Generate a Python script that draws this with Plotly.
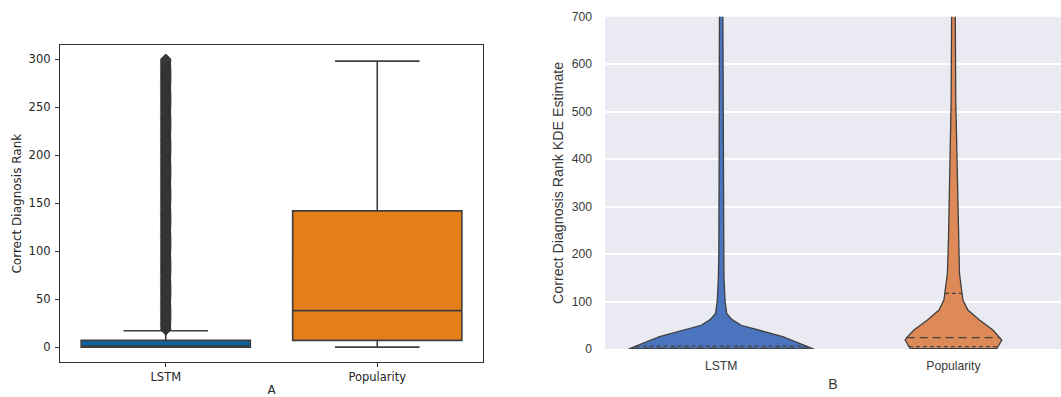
import numpy as np
import plotly.graph_objects as go

# ---------------- data ----------------
models = ["LSTM", "Popularity"]

# Panel A: box-plot statistics of the correct diagnosis rank
box_q1 = [0, 7]
box_median = [1, 38]
box_q3 = [7, 142]
box_lowerfence = [0, 0]
box_upperfence = [17, 298]
# LSTM outliers: every rank from 18 up to 300 occurs beyond the upper whisker
lstm_outlier_ranks = list(range(18, 301))

# Panel B: KDE profile (rank level -> half width of the violin, in category units)
lstm_kde_rank = [0, 26, 50, 62, 75, 100, 150, 200, 400, 720]
lstm_kde_halfwidth = [0.399, 0.265, 0.086, 0.047, 0.024, 0.017, 0.012, 0.010, 0.0086, 0.0073]
pop_kde_rank = [1, 10, 19, 24, 40, 61, 82, 103, 117, 159, 229, 313, 523, 720]
pop_kde_halfwidth = [0.187, 0.198, 0.208, 0.2015, 0.170, 0.112, 0.062, 0.041, 0.037,
                     0.026, 0.0215, 0.019, 0.010, 0.0077]
# quartiles of the KDE-estimated ranks (q1, median, q3)
lstm_quartiles = [1, 2, 6]
pop_quartiles = [5, 24, 117]

# ---------------- styles ----------------
box_colors = ["#0b63a2", "#e67e18"]
violin_colors = ["#4a74bd", "#dd8a58"]
edge = "#3f3f3f"
W, H = 1061, 397

fig = go.Figure()

# ---- Panel A: box plots ----
for i, m in enumerate(models):
    fig.add_trace(go.Box(
        x=[m], q1=[box_q1[i]], median=[box_median[i]], q3=[box_q3[i]],
        lowerfence=[box_lowerfence[i]], upperfence=[box_upperfence[i]],
        width=0.8, whiskerwidth=0.5, fillcolor=box_colors[i],
        line=dict(color=edge, width=1.6), boxpoints=False,
        xaxis="x", yaxis="y", showlegend=False, hoverinfo="y"))

fig.add_trace(go.Scatter(
    x=[models[0]] * len(lstm_outlier_ranks), y=lstm_outlier_ranks, mode="markers",
    marker=dict(symbol="diamond", size=8, color="#3a3a3a",
                line=dict(color="#333333", width=1)),
    xaxis="x", yaxis="y", showlegend=False, cliponaxis=True))

# ---- Panel B: violins drawn from the KDE profiles ----
profiles = [(lstm_kde_rank, lstm_kde_halfwidth, lstm_quartiles),
            (pop_kde_rank, pop_kde_halfwidth, pop_quartiles)]
for i, (r, hw, qs) in enumerate(profiles):
    r = np.array(r, dtype=float)
    hw = np.array(hw, dtype=float)
    xs = np.concatenate([i - hw, (i + hw)[::-1], [i - hw[0]]])
    ys = np.concatenate([r, r[::-1], [r[0]]])
    fig.add_trace(go.Scatter(
        x=xs, y=ys, mode="lines", fill="toself", fillcolor=violin_colors[i],
        line=dict(color=edge, width=1.3), xaxis="x2", yaxis="y2",
        showlegend=False, hoverinfo="skip"))
    for k, q in enumerate(qs):
        w = float(np.interp(q, r, hw))
        fig.add_trace(go.Scatter(
            x=[i - w, i + w], y=[q, q], mode="lines",
            line=dict(color="#444444", width=1.3,
                      dash="8px,5px" if k == 1 else "4px,3px"),
            xaxis="x2", yaxis="y2", showlegend=False, hoverinfo="skip"))

fontA = dict(family="DejaVu Sans", size=11.5, color="#262626")
fontAt = dict(family="DejaVu Sans", size=12, color="#262626")
fontB = dict(family="Liberation Sans, Arial", size=12.2, color="#3a3a3a")
fontBt = dict(family="Liberation Sans, Arial", size=14.2, color="#3a3a3a")

fig.update_layout(
    width=W, height=H, margin=dict(l=0, r=0, t=0, b=0),
    paper_bgcolor="white", plot_bgcolor="white", showlegend=False,
    xaxis=dict(domain=[60 / W, 483 / W], type="category", categoryorder="array",
               categoryarray=models, range=[-0.5, 1.5], showgrid=False,
               showline=True, mirror=True, linecolor="#333333", linewidth=1.3,
               ticks="outside", ticklen=4, tickcolor="#333333", tickfont=fontA,
               zeroline=False, automargin=False, anchor="y",
               title=dict(text="A", font=fontAt, standoff=8)),
    yaxis=dict(domain=[(H - 362) / H, (H - 45.3) / H], range=[-15.5, 314.5],
               tickvals=[0, 50, 100, 150, 200, 250, 300], showgrid=False,
               showline=True, mirror=True, linecolor="#333333", linewidth=1.3,
               ticks="outside", ticklen=4, tickcolor="#333333", tickfont=fontA,
               ticklabelstandoff=2, zeroline=False, automargin=False, anchor="x",
               title=dict(text="Correct Diagnosis Rank", font=fontAt, standoff=4)),
    xaxis2=dict(domain=[605 / W, 1.0], range=[-0.5, 1.463], tickvals=[0, 1],
                ticktext=models, showgrid=False, showline=False, zeroline=False,
                ticks="", tickfont=fontB, automargin=False, anchor="y2",
                ticklabelstandoff=8,
                title=dict(text="B", font=fontBt, standoff=6)),
    yaxis2=dict(domain=[(H - 349) / H, (H - 16.7) / H], range=[0, 700],
                tickvals=[0, 100, 200, 300, 400, 500, 600, 700],
                showgrid=True, gridcolor="white", gridwidth=1.5,
                showline=False, zeroline=False, ticks="", tickfont=fontB,
                ticklabelstandoff=12, automargin=False, anchor="x2",
                title=dict(text="Correct Diagnosis Rank KDE Estimate", font=fontBt, standoff=4)),
)
fig.add_shape(type="rect", xref="x2 domain", yref="y2 domain", x0=0, x1=1, y0=0, y1=1,
              fillcolor="#eaeaf2", line=dict(width=0), layer="below")

fig.write_html("out.html", config={"displayModeBar": False},
               post_script="document.body.style.margin='0';document.body.style.overflow='hidden';")
